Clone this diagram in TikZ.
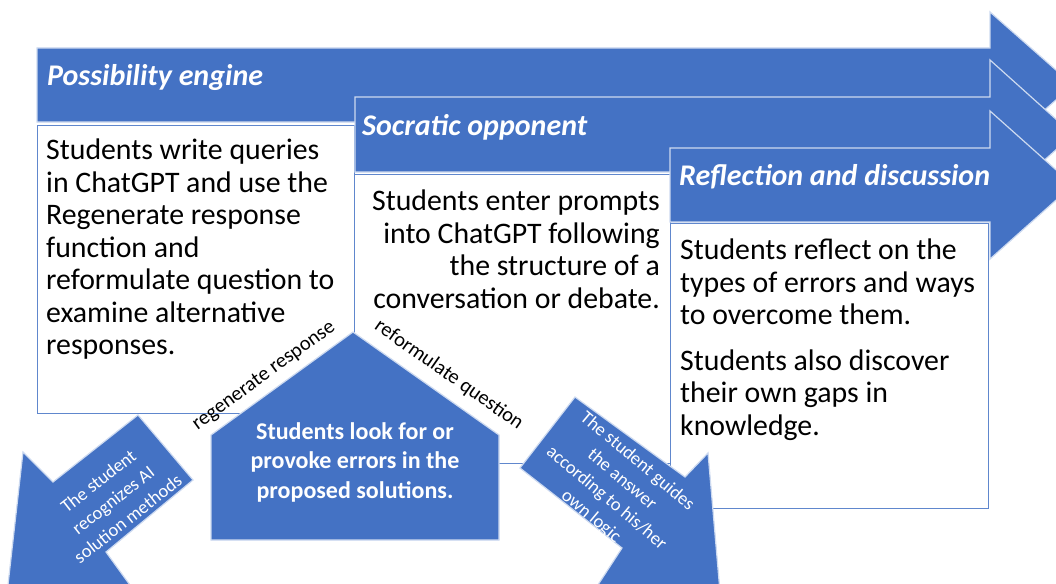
\documentclass[tikz,border=0pt]{standalone}
\usepackage{fontspec}
\setmainfont{Carlito}
\definecolor{accent}{RGB}{68,114,196}
\definecolor{rim}{RGB}{205,218,240}
\begin{document}
\begin{tikzpicture}[x=1pt,y=-1pt,
  band/.style={fill=accent, draw=rim, line width=1.2pt, line join=miter},
  card/.style={fill=white, draw=accent!85!white, line width=0.9pt},
  head/.style={anchor=west, text=white, inner sep=0pt, font=\fontsize{30}{32}\selectfont\bfseries\itshape},
  body/.style={inner sep=0pt, text=black, font=\fontsize{29.8}{32.5}\selectfont},
  tag/.style={inner sep=0pt, text=white, align=center, font=\fontsize{18.5}{24}\selectfont},
  slopelabel/.style={inner sep=0pt, text=black, font=\fontsize{20.5}{22}\selectfont}
]
\useasboundingbox (0,0) rectangle (1056,583);
\clip (0,0) rectangle (1056,583);

% stage 1: band and its card
\path[band] (37,48) -- (990,48) -- (990,12) -- (1073,85) -- (990,158) -- (990,122) -- (37,122) -- cycle;
\path[card] (37,125) rectangle (354,413);
% stage 2
\path[band] (355,97) -- (990,97) -- (990,60) -- (1073,134.5) -- (990,209) -- (990,172) -- (355,172) -- cycle;
\path[card] (354,174) rectangle (670,463);
% stage 3
\path[band] (670,148) -- (990,148) -- (990,111) -- (1073,185) -- (990,259) -- (990,222) -- (670,222) -- cycle;
\path[card] (670,223) rectangle (988,508);

% central pentagon
\path[band] (211,540) -- (211,435) -- (353,332) -- (499,435) -- (499,540) -- cycle;

% outgoing block arrows
\path[band] (138,415) -- (193,480) -- (106,552) -- (135,592) -- (8,585) -- (23,452) -- (53,482) -- cycle;
\path[band] (575,397) -- (685,477) -- (708,453) -- (720,592) -- (592,594) -- (622,548) -- (520,468) -- cycle;

% headings
\node[head] (h1) at (47,78) {Possibility engine};
\node[head] (h2) at (362,127) {Socratic opponent};
\node[head] (h3) at (679,177) {Reflection and discussion};

% card texts
\node[body, anchor=north west, align=left] (t1) at (46,139) {Students write queries\\in ChatGPT and use the\\Regenerate response\\function and\\reformulate question to\\examine alternative\\responses.};
\node[body, anchor=north east, align=right] (t2) at (660,190) {Students enter prompts\\into ChatGPT following\\the structure of a\\conversation or debate.};
\node[body, anchor=north west, align=left] (t3) at (680,239) {Students reflect on the\\types of errors and ways\\to overcome them.\\[13pt]Students also discover\\their own gaps in\\knowledge.};

% pentagon text
\node[inner sep=0pt, text=white, align=center, font=\fontsize{24}{29.5}\selectfont\bfseries] (core) at (355,462) {Students look for or\\provoke errors in the\\proposed solutions.};

% labels along the pentagon roof
\node[slopelabel, rotate=36] (regen) at (264,376) {regenerate response};
\node[slopelabel, rotate=-35] (reform) at (449,375) {reformulate question};

% texts inside the block arrows
\node[tag, rotate=38] (left) at (113,500) {The student\\recognizes AI\\solution methods};
\node[tag, rotate=-40] (right) at (614,489) {The student guides\\the answer\\according to his/her\\own logic};
\end{tikzpicture}
\end{document}
